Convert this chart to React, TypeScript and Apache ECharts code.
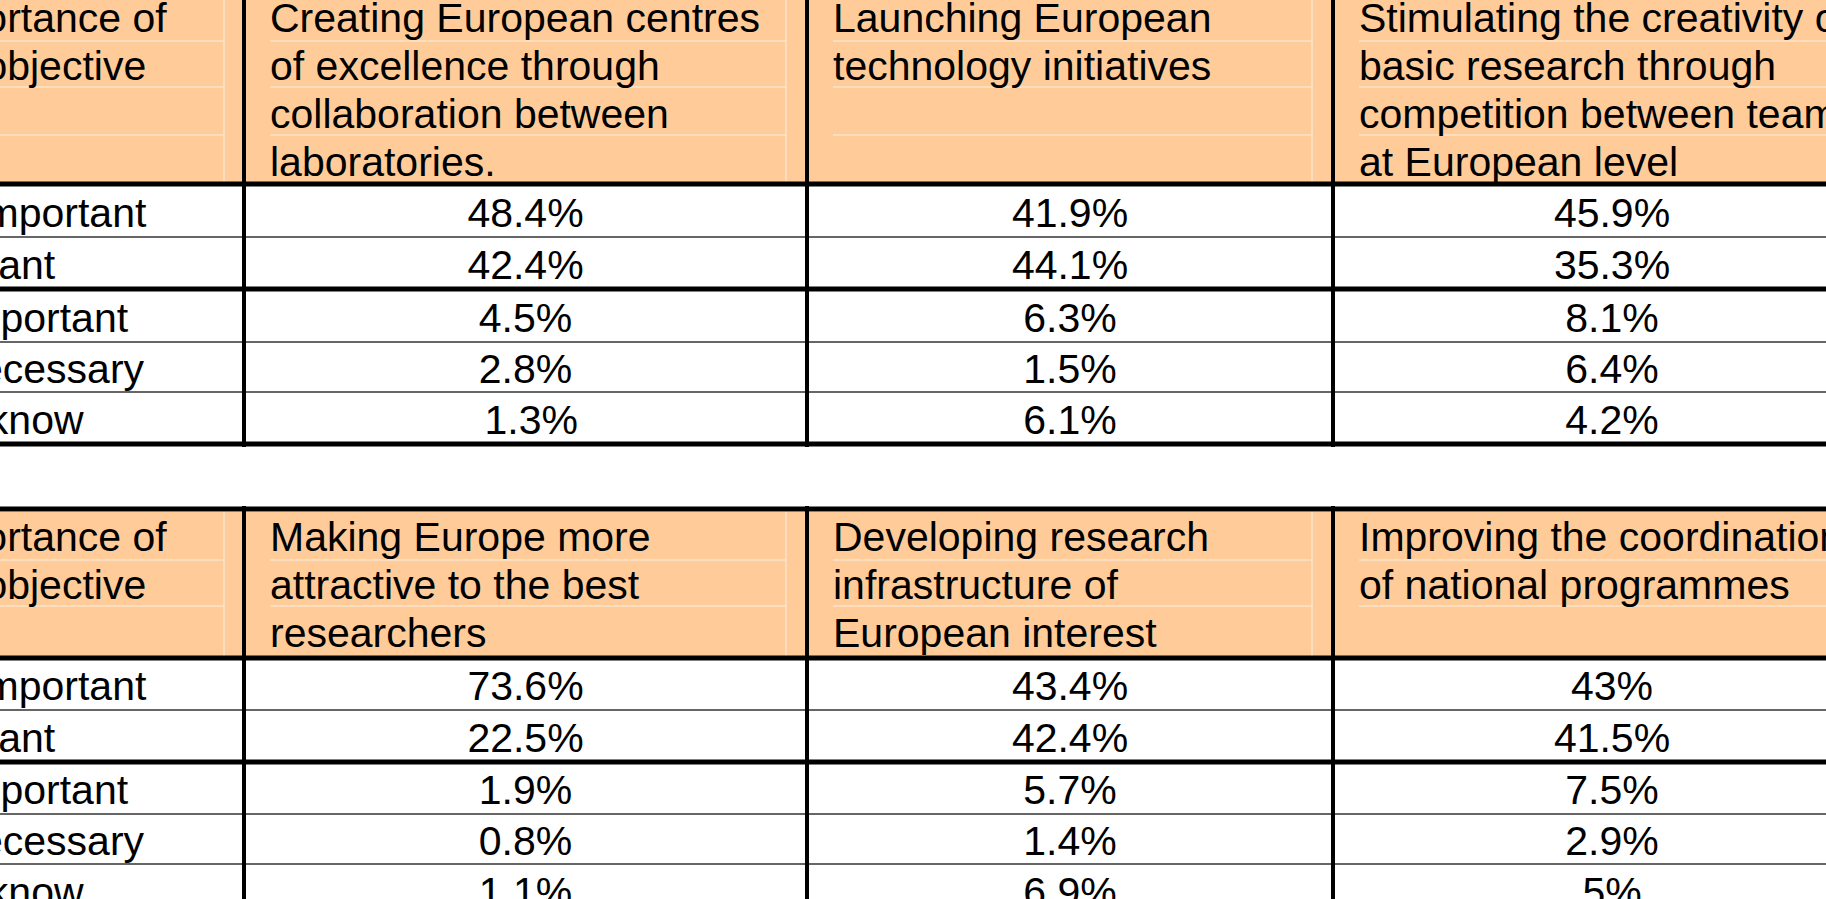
import React, { useEffect, useRef } from "react";
import * as echarts from "echarts";

const rowLabels = ["Very important", "Important", "Not important", "Not necessary", "Don't know"];
const headerLabel = ["Importance of", "the objective"];
const topHeaders = [
  ["Creating European centres", "of excellence through", "collaboration between", "laboratories."],
  ["Launching European", "technology initiatives"],
  ["Stimulating the creativity of", "basic research through", "competition between teams", "at European level"],
];
const topValues = [
  ["48.4%", "42.4%", "4.5%", "2.8%", " 1.3%"],
  ["41.9%", "44.1%", "6.3%", "1.5%", "6.1%"],
  ["45.9%", "35.3%", "8.1%", "6.4%", "4.2%"],
];
const bottomHeaders = [
  ["Making Europe more", "attractive to the best", "researchers"],
  ["Developing research", "infrastructure of", "European interest"],
  ["Improving the coordination", "of national programmes"],
];
const bottomValues = [
  ["73.6%", "22.5%", "1.9%", "0.8%", "1.1%"],
  ["43.4%", "42.4%", "5.7%", "1.4%", "6.9%"],
  ["43%", "41.5%", "7.5%", "2.9%", "5%"],
];

const FONT = "'Liberation Sans', Arial, sans-serif";
const FS = 41;
const colX = [244, 807, 1333, 1900];

function buildTable(top: number, headTop: number, headBottom: number, firstY: number, rowLines: number[], headers: string[][], values: string[][], headerLines: number[], drawTopBorder: boolean) {
  const els: any[] = [];
  els.push({ type: "rect", shape: { x: 0, y: headTop, width: 1826, height: headBottom - headTop }, style: { fill: "#FFCC99" }, z: 1 });
  headerLines.forEach((y) => {
    els.push({ type: "line", shape: { x1: 0, y1: y, x2: 224, y2: y }, style: { stroke: "#FBE3CB", lineWidth: 1.5 }, z: 2 });
    for (let c = 0; c < 3; c++) {
      els.push({ type: "line", shape: { x1: colX[c] + 26, y1: y, x2: colX[c + 1] - 20, y2: y }, style: { stroke: "#FBE3CB", lineWidth: 1.5 }, z: 2 });
    }
  });
  [224, 786, 1312].forEach((x) => {
    els.push({ type: "line", shape: { x1: x, y1: headTop, x2: x, y2: headBottom }, style: { stroke: "#FBE3CB", lineWidth: 1.5 }, z: 2 });
  });
  const lineH = 48;
  headerLabel.forEach((t, i) => {
    els.push({ type: "text", x: -84, y: firstY + i * lineH, style: { text: t, font: `${FS}px ${FONT}`, fill: "#000", verticalAlign: "middle" }, z: 5 });
  });
  headers.forEach((lines, c) => {
    lines.forEach((t, i) => {
      els.push({ type: "text", x: colX[c] + 26, y: firstY + i * lineH, style: { text: t, font: `${FS}px ${FONT}`, fill: "#000", verticalAlign: "middle" }, z: 5 });
    });
  });
  const ys = [headBottom, ...rowLines];
  for (let r = 0; r < rowLabels.length; r++) {
    const cy = (ys[r] + ys[r + 1]) / 2 + 2;
    els.push({ type: "text", x: -118, y: cy, style: { text: rowLabels[r], font: `${FS}px ${FONT}`, fill: "#000", verticalAlign: "middle" }, z: 5 });
    for (let c = 0; c < 3; c++) {
      const mid = c === 2 ? 1612 : (colX[c] + colX[c + 1]) / 2;
      els.push({ type: "text", x: mid, y: cy, style: { text: values[c][r], font: `${FS}px ${FONT}`, fill: "#000", align: "center", verticalAlign: "middle" }, z: 5 });
    }
  }
  const thick = [0, 2, 5];
  ys.forEach((y, i) => {
    const isThick = thick.includes(i);
    els.push({ type: "line", shape: { x1: 0, y1: y, x2: 1826, y2: y }, style: { stroke: isThick ? "#000" : "#333", lineWidth: isThick ? 5 : 1.5 }, z: 6 });
  });
  if (drawTopBorder) {
    els.push({ type: "line", shape: { x1: 0, y1: top, x2: 1826, y2: top }, style: { stroke: "#000", lineWidth: 5 }, z: 6 });
  }
  const bottomY = ys[ys.length - 1];
  colX.slice(0, 3).forEach((x) => {
    els.push({ type: "line", shape: { x1: x, y1: top - 3, x2: x, y2: bottomY + 3 }, style: { stroke: "#000", lineWidth: 4 }, z: 7 });
  });
  return els;
}

export default function App() {
  const ref = useRef<HTMLDivElement>(null);
  useEffect(() => {
    if (!ref.current) return;
    const chart = echarts.init(ref.current, null, { renderer: "svg" });
    const elements = [
      ...buildTable(-10, -10, 184, 18, [237, 289, 342, 392, 444], topHeaders, topValues, [41, 87, 135], false),
      ...buildTable(509, 512, 658, 537, [710, 762, 814, 864, 916], bottomHeaders, bottomValues, [560, 606], true),
    ];
    chart.setOption({ animation: false, backgroundColor: "#fff", graphic: { elements } });
    return () => chart.dispose();
  }, []);
  return <div ref={ref} style={{ position: "absolute", left: 0, top: 0, width: 1826, height: 899 }} />;
}
